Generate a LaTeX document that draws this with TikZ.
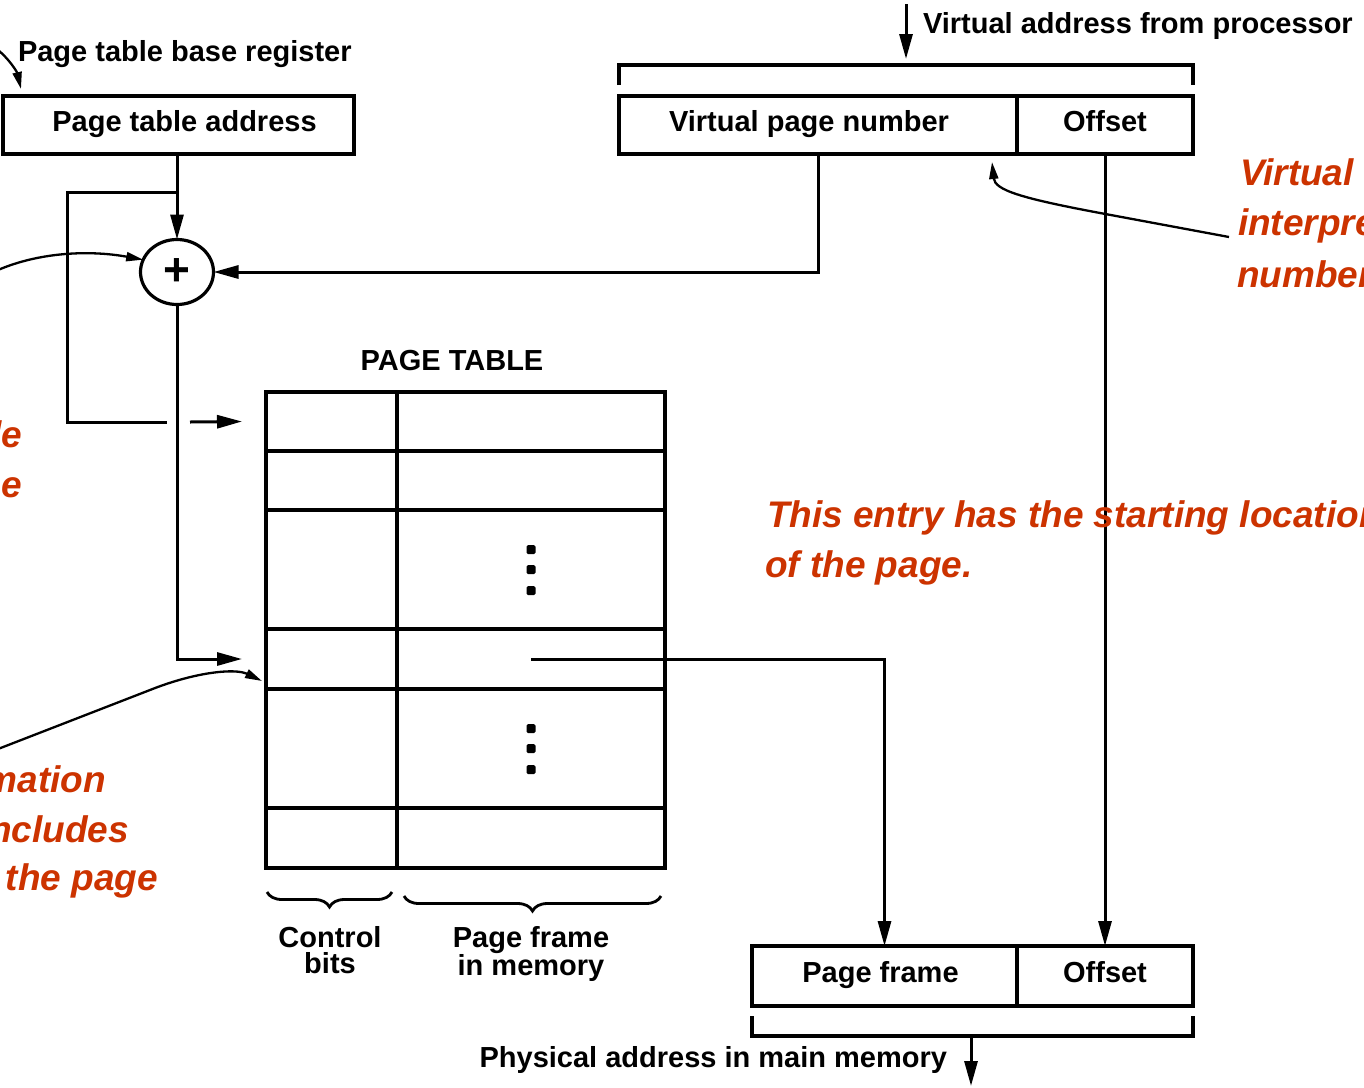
\documentclass[tikz,border=0pt]{standalone}
\usepackage{fontspec}
\setmainfont{Liberation Sans}
\usetikzlibrary{arrows.meta,decorations.pathreplacing,shapes.geometric}
\definecolor{annot}{RGB}{204,51,0}
\newcommand\blkfont{\fontsize{29}{26}\selectfont\bfseries}
\newcommand\redfont{\fontsize{37}{51}\selectfont\bfseries\itshape}
\begin{document}
\begin{tikzpicture}[x=1pt,y=-1pt,
  every node/.style={inner sep=0pt, outer sep=0pt},
  box/.style={draw, line width=3.2pt, font=\blkfont, text height=20pt, text depth=8pt},
  cell/.style={draw, line width=3.2pt},
  conn/.style={line width=3pt},
  arr/.style={conn, -{Triangle[length=25pt,width=13pt]}},
  note/.style={line width=2.3pt, -{Triangle[length=17pt,width=9pt]}},
  lbl/.style={font=\blkfont},
  rednote/.style={font=\redfont, text=annot},
  brc/.style={line width=2.8pt, decorate, decoration={brace, mirror, amplitude=15pt}},
  bracket/.style={line width=3.2pt}
]
\clip (0,0) rectangle (1364,1087);
\fill[white] (0,0) rectangle (1364,1087);

% top-left register
\node[lbl, anchor=base west] (ptbr) at (18,61) {Page table base register};
\node[box, minimum width=351pt, minimum height=58pt] (pta) at (178.5,125) {\kern12pt Page table address};

% virtual address
\node[lbl, anchor=base west] (va) at (923,33) {Virtual address from processor};
\node[box, minimum width=398pt, minimum height=58pt] (vpn) at (818,125) {Virtual page number\kern18pt};
\node[box, minimum width=176pt, minimum height=58pt] (off1) at (1105,125) {Offset};
\draw[bracket] (619,85) -- (619,65) -- (1193,65) -- (1193,85);
\coordinate (vasrc) at (906,4);
\coordinate (vatip) at (906,59);
\draw[arr] (vasrc) -- (vatip);

% adder
\node[draw, ellipse, line width=3.2pt, minimum width=73pt, minimum height=65pt] (add) at (177,272) {\fontsize{46}{46}\selectfont\bfseries +};

% page table
\node[lbl] (ptt) at (452,361) {PAGE TABLE};
\foreach \i/\c/\h in {1/421.5/59, 2/480.5/59, 3/569.5/119, 4/659/60, 5/748.5/119, 6/838/60} {
  \node[cell, minimum width=131pt, minimum height=\h pt] (r\i a) at (331.5,\c) {};
  \node[cell, minimum width=268pt, minimum height=\h pt] (r\i b) at (531,\c) {};
}
\foreach \cell in {r3b, r5b} {
  \foreach \dy in {-20,0,21} {
    \fill[rounded corners=1.5pt] ([shift={(-4.5pt,-\dy pt+4.5pt)}]\cell.center) rectangle ++(9,9);
  }
}

% braces
\draw[brc] (267,892) -- (392,892);
\draw[brc] (404,896) -- (661,896);
\node[lbl, align=center, anchor=north] (cb) at (330,926) {Control\\bits};
\node[lbl, align=center, anchor=north] (pfm) at (531,926) {Page frame\\in memory};

% physical address
\node[box, minimum width=265pt, minimum height=60pt] (pf) at (884.5,976) {Page frame\kern8pt};
\node[box, minimum width=176pt, minimum height=60pt] (off2) at (1105,976) {Offset};
\draw[bracket] (752,1016) -- (752,1036) -- (1193,1036) -- (1193,1016);
\coordinate (pa) at (971,1036);
\coordinate (paout) at (971,1086);
\draw[arr] (pa) -- (paout);
\node[lbl, anchor=base east] (phys) at (947,1067) {Physical address in main memory};

% connectors
\coordinate (br) at (177,192);
\coordinate (bl) at (67,192);
\coordinate (bd) at (67,422);
\coordinate (gapl) at (167,422);
\coordinate (gapr) at (190,422);
\draw[arr] (pta.south -| add.north) -- (add.north);
\draw[conn] (br) -- (bl) -- (bd) -- (gapl);
\draw[arr] (gapr) -- ([xshift=-24pt]r1a.west);
\draw[arr] (vpn.south) |- (add.east);
\draw[arr] (add.south) |- ([xshift=-24pt]r4a.west);
\draw[arr] (r4b.center) -| (pf.north);
\draw[arr] (off1.south) -- (off2.north);

% annotation curves
\coordinate (c1s) at (-2,50);
\coordinate (c1e) at (21,89);
\draw[note] (c1s) .. controls (10,60) and (17,72) .. (c1e);
\coordinate (c2s) at (-2,270);
\draw[note] (c2s) .. controls (40,252) and (90,250) .. (add.160);
\coordinate (c3s) at (-2,749);
\coordinate (c3m) at (150,690);
\draw[note] (c3s) -- (c3m) .. controls (195,672) and (235,668) .. ([shift={(-4pt,8pt)}]r4a.south west);
\coordinate (c4s) at (1229,237);
\coordinate (c4m) at (1100,213);
\coordinate (c4e) at (992,162);
\draw[note] (c4s) -- (c4m) .. controls (1020,198) and (995,190) .. (c4e);

% red annotations
\node[rednote, anchor=base east] (a1) at (22,447) {the entry in the page table};
\node[rednote, anchor=base east] (a2) at (22,497) {for the virtual page};
\node[rednote, anchor=base east] (b1) at (106,792) {Page table information};
\node[rednote, anchor=base east] (b2) at (129,842) {for each page includes};
\node[rednote, anchor=base east] (b3) at (158,890) {the starting location of the page};
\node[rednote, anchor=base west] (t1) at (767,527) {This entry has the starting location};
\node[rednote, anchor=base west] (t2) at (765,577) {of the page.};
\node[rednote, anchor=base west] (v1) at (1240,185) {Virtual address is};
\node[rednote, anchor=base west] (v2) at (1238,235) {interpreted as page};
\node[rednote, anchor=base west] (v3) at (1237,287) {number and offset};
\end{tikzpicture}
\end{document}
